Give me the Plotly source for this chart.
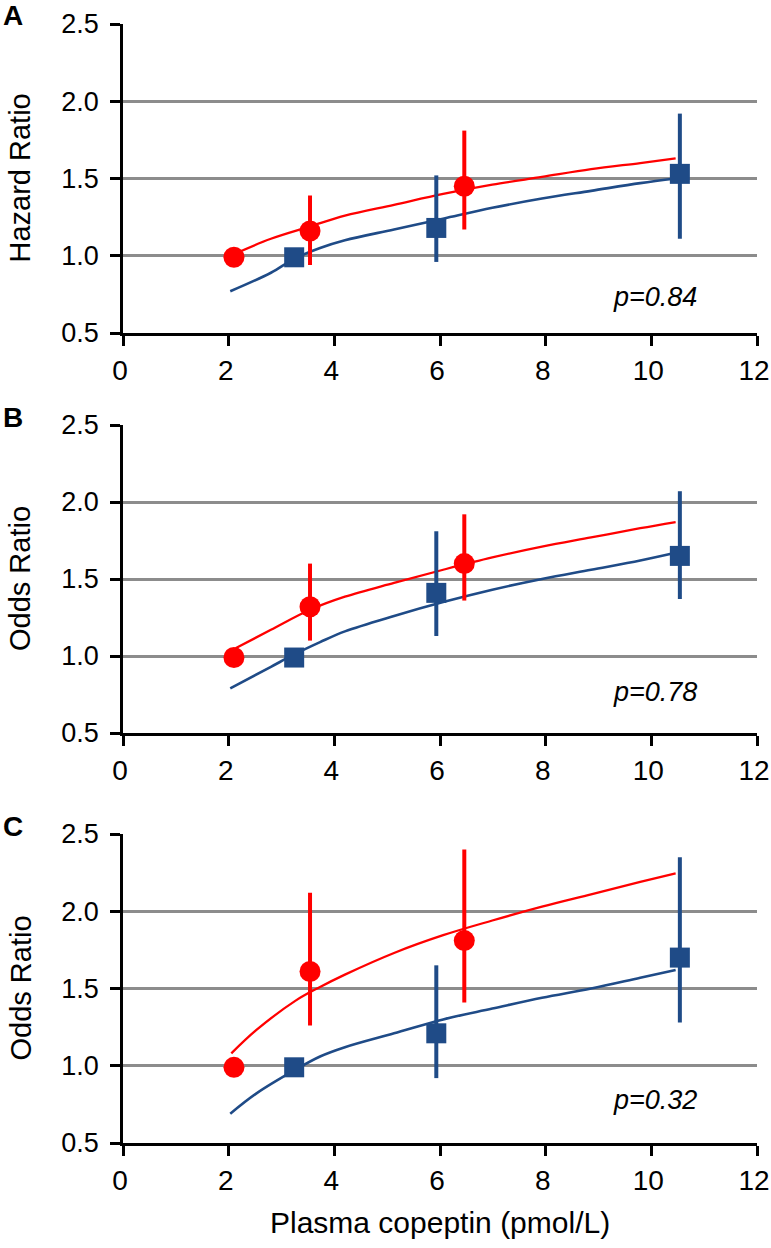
import plotly.graph_objects as go

# ---------------- data ----------------
x_red = [2.10, 3.54, 6.46]
x_blue = [3.24, 5.93, 10.54]

# Panel A (Hazard ratio)
A_red = [0.99, 1.16, 1.45]
A_red_hi = [0.99, 1.39, 1.81]
A_red_lo = [0.99, 0.94, 1.17]
A_blue = [0.99, 1.18, 1.53]
A_blue_hi = [0.99, 1.52, 1.92]
A_blue_lo = [0.99, 0.96, 1.11]

# Panel B (Odds ratio)
B_red = [0.99, 1.32, 1.60]
B_red_hi = [0.99, 1.60, 1.92]
B_red_lo = [0.99, 1.10, 1.36]
B_blue = [0.99, 1.41, 1.65]
B_blue_hi = [0.99, 1.81, 2.07]
B_blue_lo = [0.99, 1.13, 1.37]

# Panel C (Odds ratio)
C_red = [0.99, 1.61, 1.81]
C_red_hi = [0.99, 2.12, 2.40]
C_red_lo = [0.99, 1.26, 1.41]
C_blue = [0.99, 1.21, 1.70]
C_blue_hi = [0.99, 1.65, 2.35]
C_blue_lo = [0.99, 0.92, 1.28]

# fitted curves
red_curve_x = [2.13, 2.8, 3.54, 4.2, 5.13, 6.06, 6.99, 7.93, 8.86, 9.79, 10.46]
blue_curve_x = [2.03, 2.8, 3.24, 3.73, 4.2, 5.13, 6.06, 6.99, 7.93, 8.86, 9.79, 10.46]
C_red_curve_x = [2.05, 2.52, 3.26, 3.73, 4.2, 5.13, 6.06, 6.99, 7.93, 8.86, 9.79, 10.46]
C_blue_curve_x = [2.03, 2.52, 3.24, 3.73, 4.2, 5.13, 6.06, 6.99, 7.93, 8.86, 9.79, 10.46]

A_red_curve = [1.015, 1.11, 1.19, 1.26, 1.33, 1.40, 1.46, 1.51, 1.56, 1.60, 1.63]
A_blue_curve = [0.77, 0.89, 0.98, 1.05, 1.10, 1.17, 1.24, 1.31, 1.37, 1.42, 1.47, 1.50]
B_red_curve = [1.05, 1.17, 1.30, 1.385, 1.475, 1.56, 1.64, 1.71, 1.77, 1.83, 1.87]
B_blue_curve = [0.79, 0.93, 1.01, 1.09, 1.16, 1.26, 1.35, 1.43, 1.50, 1.56, 1.62, 1.67]
C_red_curve = [1.08, 1.23, 1.42, 1.51, 1.59, 1.73, 1.845, 1.94, 2.03, 2.11, 2.19, 2.245]
C_blue_curve = [0.69, 0.82, 0.97, 1.06, 1.12, 1.21, 1.30, 1.37, 1.44, 1.50, 1.57, 1.62]

panel_letters = ["A", "B", "C"]
y_titles = ["Hazard Ratio", "Odds Ratio", "Odds Ratio"]
p_texts = ["p=0.84", "p=0.78", "p=0.32"]
p_y = [0.735, 0.768, 0.78]
p_x = 10.07
x_title = "Plasma copeptin (pmol/L)"
x_ticks = [0, 2, 4, 6, 8, 10, 12]
y_ticks = [0.5, 1.0, 1.5, 2.0, 2.5]

# ---------------- styling ----------------
RED = "#ff0000"
BLUE = "#1f4b87"
GRID = "#8c8c8c"
FONT = "Liberation Sans, Arial, Helvetica, sans-serif"

W, H = 771, 1248
L, R, T, B = 123, 14, 24, 105
plot_h = H - T - B
plot_w = W - L - R


def py2paper(py):
    return (H - B - py) / plot_h


def px2paper(px):
    return (px - L) / plot_w


panel_px = [(24, 333), (425, 733), (834, 1143)]

panels = [
    (A_red, A_red_hi, A_red_lo, A_blue, A_blue_hi, A_blue_lo,
     red_curve_x, A_red_curve, blue_curve_x, A_blue_curve),
    (B_red, B_red_hi, B_red_lo, B_blue, B_blue_hi, B_blue_lo,
     red_curve_x, B_red_curve, blue_curve_x, B_blue_curve),
    (C_red, C_red_hi, C_red_lo, C_blue, C_blue_hi, C_blue_lo,
     C_red_curve_x, C_red_curve, C_blue_curve_x, C_blue_curve),
]

fig = go.Figure()
annotations = []
layout_axes = {}

for i, (rd, rhi, rlo, bl, bhi, blo, rcx, rcy, bcx, bcy) in enumerate(panels):
    n = "" if i == 0 else str(i + 1)
    xa, ya = "x" + n, "y" + n

    fig.add_trace(go.Scatter(x=bcx, y=bcy, mode="lines", xaxis=xa, yaxis=ya,
                             line=dict(color=BLUE, width=2.6, shape="spline"),
                             showlegend=False, hoverinfo="skip"))
    fig.add_trace(go.Scatter(x=rcx, y=rcy, mode="lines", xaxis=xa, yaxis=ya,
                             line=dict(color=RED, width=2.3, shape="spline"),
                             showlegend=False, hoverinfo="skip"))
    fig.add_trace(go.Scatter(
        x=x_blue, y=bl, mode="markers", xaxis=xa, yaxis=ya,
        marker=dict(symbol="square", size=20, color=BLUE),
        error_y=dict(type="data", symmetric=False,
                     array=[h - v for h, v in zip(bhi, bl)],
                     arrayminus=[v - l for v, l in zip(bl, blo)],
                     color=BLUE, thickness=4, width=0),
        showlegend=False))
    fig.add_trace(go.Scatter(
        x=x_red, y=rd, mode="markers", xaxis=xa, yaxis=ya,
        marker=dict(symbol="circle", size=21, color=RED),
        error_y=dict(type="data", symmetric=False,
                     array=[h - v for h, v in zip(rhi, rd)],
                     arrayminus=[v - l for v, l in zip(rd, rlo)],
                     color=RED, thickness=4, width=0),
        showlegend=False))

    top, bot = panel_px[i]
    dom = [py2paper(bot), py2paper(top)]
    layout_axes["xaxis" + n] = dict(
        domain=[0, 1], anchor=ya, range=[0, 12], tickvals=x_ticks,
        showgrid=False, zeroline=False, showline=True, linecolor="black",
        linewidth=2.5, ticks="outside", ticklen=10, tickwidth=2.5,
        tickcolor="black", ticklabelstandoff=1, ticklabelshift=-3,
        ticklabeloverflow="allow", automargin=False,
        tickfont=dict(family=FONT, size=28, color="black"))
    layout_axes["yaxis" + n] = dict(
        domain=dom, anchor=xa, range=[0.5, 2.5], tickvals=y_ticks,
        tickformat=".1f", showgrid=True, gridcolor=GRID, gridwidth=2.5,
        zeroline=False, showline=True, linecolor="black", linewidth=2.5,
        ticks="outside", ticklen=10, tickwidth=2.5, tickcolor="black",
        ticklabelstandoff=6, automargin=False,
        tickfont=dict(family=FONT, size=27, color="black"))

    # panel letter
    annotations.append(dict(
        text="<b>%s</b>" % panel_letters[i], xref="paper", yref="paper",
        x=px2paper(13), y=py2paper(top - 8), xanchor="center", yanchor="middle",
        showarrow=False, font=dict(family=FONT, size=28, color="black")))
    # y title
    annotations.append(dict(
        text=y_titles[i], xref="paper", yref="paper",
        x=px2paper(20), y=py2paper((top + bot) / 2), xanchor="center",
        yanchor="middle", textangle=-90, showarrow=False,
        font=dict(family=FONT, size=29, color="black")))
    # p value
    annotations.append(dict(
        text="<i>%s</i>" % p_texts[i], xref=xa, yref=ya, x=p_x, y=p_y[i],
        xanchor="center", yanchor="middle", showarrow=False,
        font=dict(family=FONT, size=27, color="black")))

annotations.append(dict(
    text=x_title, xref="paper", yref="paper", x=px2paper(440),
    y=py2paper(1222), xanchor="center", yanchor="middle", showarrow=False,
    font=dict(family=FONT, size=30, color="black")))

fig.update_layout(
    width=W, height=H, margin=dict(l=L, r=R, t=T, b=B, autoexpand=False),
    paper_bgcolor="white", plot_bgcolor="white",
    annotations=annotations, showlegend=False, **layout_axes)

fig.write_html(
    "out.html",
    config={"displayModeBar": False},
    post_script="document.body.style.margin='0';document.body.style.overflow='hidden';",
)
